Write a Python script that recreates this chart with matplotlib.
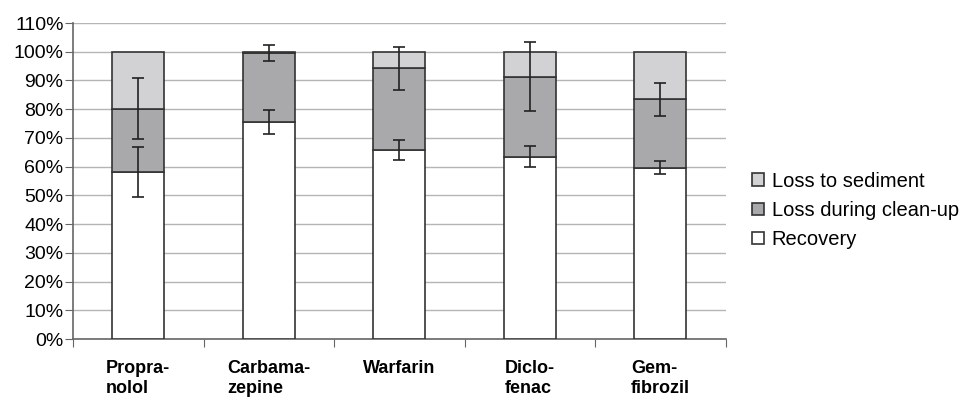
import numpy as np
import matplotlib
matplotlib.use("Agg")
import matplotlib.pyplot as plt
from matplotlib.ticker import FuncFormatter

# data (percent of spiked amount)
compounds = ["Propra-\nnolol", "Carbama-\nzepine", "Warfarin", "Diclo-\nfenac", "Gem-\nfibrozil"]
recovery = [58.1, 75.4, 65.8, 63.5, 59.7]
recovery_err = [8.6, 4.2, 3.6, 3.7, 2.2]
cleanup = [22.1, 24.1, 28.4, 27.8, 23.7]
cleanup_err = [10.7, 2.8, 7.4, 12.0, 5.6]
sediment = [19.8, 0.5, 5.8, 8.7, 16.6]

plt.rcParams["font.family"] = ["Liberation Sans", "DejaVu Sans"]

fig = plt.figure(figsize=(9.7, 4.01), dpi=100)
ax = fig.add_axes([0.0753, 0.1546, 0.6727, 0.788])

x = np.arange(len(compounds))
w = 0.40
edge = "#333333"

rec_top = np.array(recovery)
cln_top = rec_top + np.array(cleanup)

ax.bar(x, recovery, w, color="white", edgecolor=edge, linewidth=1.2, label="Recovery", zorder=3)
ax.bar(x, cleanup, w, bottom=rec_top, color="#a9a9ab", edgecolor=edge, linewidth=1.2,
       label="Loss during clean-up", zorder=3)
ax.bar(x, sediment, w, bottom=cln_top, color="#d2d2d4", edgecolor=edge, linewidth=1.2,
       label="Loss to sediment", zorder=3)

ax.errorbar(x, rec_top, yerr=recovery_err, fmt="none", ecolor="#222222", elinewidth=1.2,
            capsize=4.2, capthick=1.2, zorder=4)
ax.errorbar(x, cln_top, yerr=cleanup_err, fmt="none", ecolor="#222222", elinewidth=1.2,
            capsize=4.2, capthick=1.2, zorder=4)

ax.set_ylim(0, 110)
ax.set_yticks(np.arange(0, 111, 10))
ax.yaxis.set_major_formatter(FuncFormatter(lambda v, p: f"{v:.0f}%"))
ax.set_xlim(-0.5, len(compounds) - 0.5)

# category labels between boundary ticks
ax.set_xticks(np.arange(len(compounds) + 1) - 0.5)
ax.set_xticklabels([])
ax.set_xticks(x, minor=True)
ax.set_xticklabels(compounds, minor=True, fontweight="bold", fontsize=13,
                   multialignment="left", linespacing=1.25)
ax.tick_params(axis="x", which="minor", length=0, pad=15)
ax.tick_params(axis="x", which="major", length=6, color="#666666", direction="out")
ax.tick_params(axis="y", length=6, color="#666666", labelsize=14, pad=0.8)

ax.grid(axis="y", color="#b5b5b5", linewidth=1.0, zorder=0)
for s in ["top", "right"]:
    ax.spines[s].set_visible(False)
for s in ["left", "bottom"]:
    ax.spines[s].set_color("#666666")
    ax.spines[s].set_linewidth(1.2)

handles, labels = ax.get_legend_handles_labels()
ax.legend(handles[::-1], labels[::-1], loc="center left", bbox_to_anchor=(0.757, 0.475),
          bbox_transform=fig.transFigure, frameon=False, fontsize=14.5,
          handlelength=0.6, handleheight=0.6, handletextpad=0.35, labelspacing=0.5)

fig.savefig("out.png", dpi=100)
